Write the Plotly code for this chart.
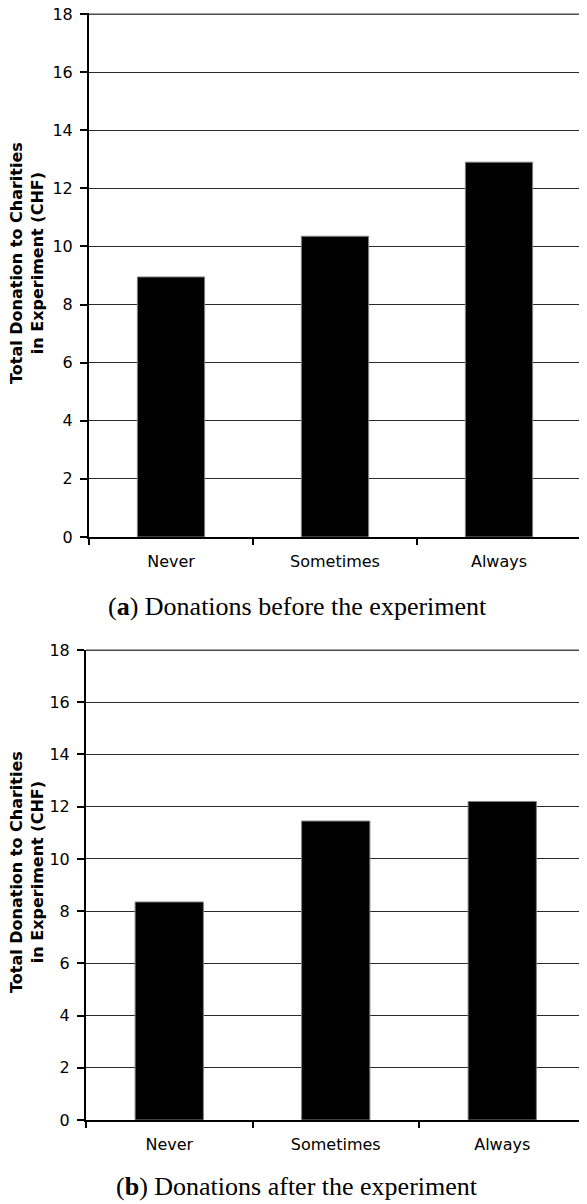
import plotly.graph_objects as go

categories = ["Never", "Sometimes", "Always"]
before_values = [8.95, 10.35, 12.9]
after_values = [8.35, 11.45, 12.2]
y_ticks = [0, 2, 4, 6, 8, 10, 12, 14, 16, 18]
y_max = 18
y_title = "Total Donation to Charities<br>in Experiment (CHF)"
caption_a = "(<b>a</b>) Donations before the experiment"
caption_b = "(<b>b</b>) Donations after the experiment"

# page body has an 8px default margin; compensate so that pixel positions match the page
OFF = 8
W, H = 587 - OFF, 1204 - OFF

def px_x(p):
    return (p - OFF) / W

def px_y(p):
    return 1 - (p - OFF) / H

fig = go.Figure()
bar_style = dict(marker=dict(color="black", line=dict(color="#808080", width=1)))
fig.add_trace(go.Bar(x=categories, y=before_values, xaxis="x", yaxis="y", **bar_style))
fig.add_trace(go.Bar(x=categories, y=after_values, xaxis="x2", yaxis="y2", **bar_style))

tickfont = dict(family="DejaVu Sans", size=16, color="black")

def xaxis_cfg(domain, anchor):
    return dict(
        domain=domain, anchor=anchor, type="category", tickson="boundaries",
        ticks="outside", ticklen=6, tickwidth=1.5, tickcolor="black",
        showline=True, linecolor="black", linewidth=2, showgrid=False,
        tickfont=tickfont, ticklabelstandoff=9, automargin=False,
    )

def yaxis_cfg(domain, anchor):
    return dict(
        domain=domain, anchor=anchor, range=[0, y_max + 0.02], tickvals=y_ticks,
        ticks="outside", ticklen=7, tickwidth=1.5, tickcolor="black",
        showline=True, linecolor="black", linewidth=2, zeroline=False,
        showgrid=True, gridcolor="#2a2a2a", gridwidth=1,
        tickfont=tickfont, ticklabelstandoff=4, automargin=False,
        ticklabeloverflow="allow",
    )

fig.update_layout(
    width=W, height=H,
    margin=dict(l=0, r=0, t=0, b=0, autoexpand=False),
    paper_bgcolor="white", plot_bgcolor="white",
    showlegend=False, bargap=0.59,
    xaxis=xaxis_cfg([px_x(89), px_x(581)], "y"),
    yaxis=yaxis_cfg([px_y(537), px_y(13.4)], "x"),
    xaxis2=xaxis_cfg([px_x(86), px_x(585.5)], "y2"),
    yaxis2=yaxis_cfg([px_y(1120), px_y(649.5)], "x2"),
)

# right borders and top lines
for xr, yr, ya in [("x domain", "y domain", "y"), ("x2 domain", "y2 domain", "y2")]:
    fig.add_shape(type="line", xref=xr, yref=yr, x0=1, x1=1, y0=0, y1=1,
                  line=dict(color="#808080", width=1.5))
    fig.add_shape(type="line", xref=xr, yref=ya, x0=0, x1=1, y0=y_max, y1=y_max,
                  line=dict(color="#111111", width=1.5))

title_font = dict(family="DejaVu Sans", size=16, color="black")
for yc in [263, 872]:
    fig.add_annotation(text="<b>" + y_title + "</b>", xref="paper", yref="paper",
                       x=px_x(27), y=px_y(yc), textangle=-90, showarrow=False,
                       xanchor="center", yanchor="middle", font=title_font)

cap_font = dict(family="Liberation Serif", size=26, color="black")
fig.add_annotation(text=caption_a, xref="paper", yref="paper", x=px_x(297), y=px_y(606),
                   showarrow=False, xanchor="center", yanchor="middle", font=cap_font)
fig.add_annotation(text=caption_b, xref="paper", yref="paper", x=px_x(297), y=px_y(1186),
                   showarrow=False, xanchor="center", yanchor="middle", font=cap_font)

fig.write_html("out.html")
